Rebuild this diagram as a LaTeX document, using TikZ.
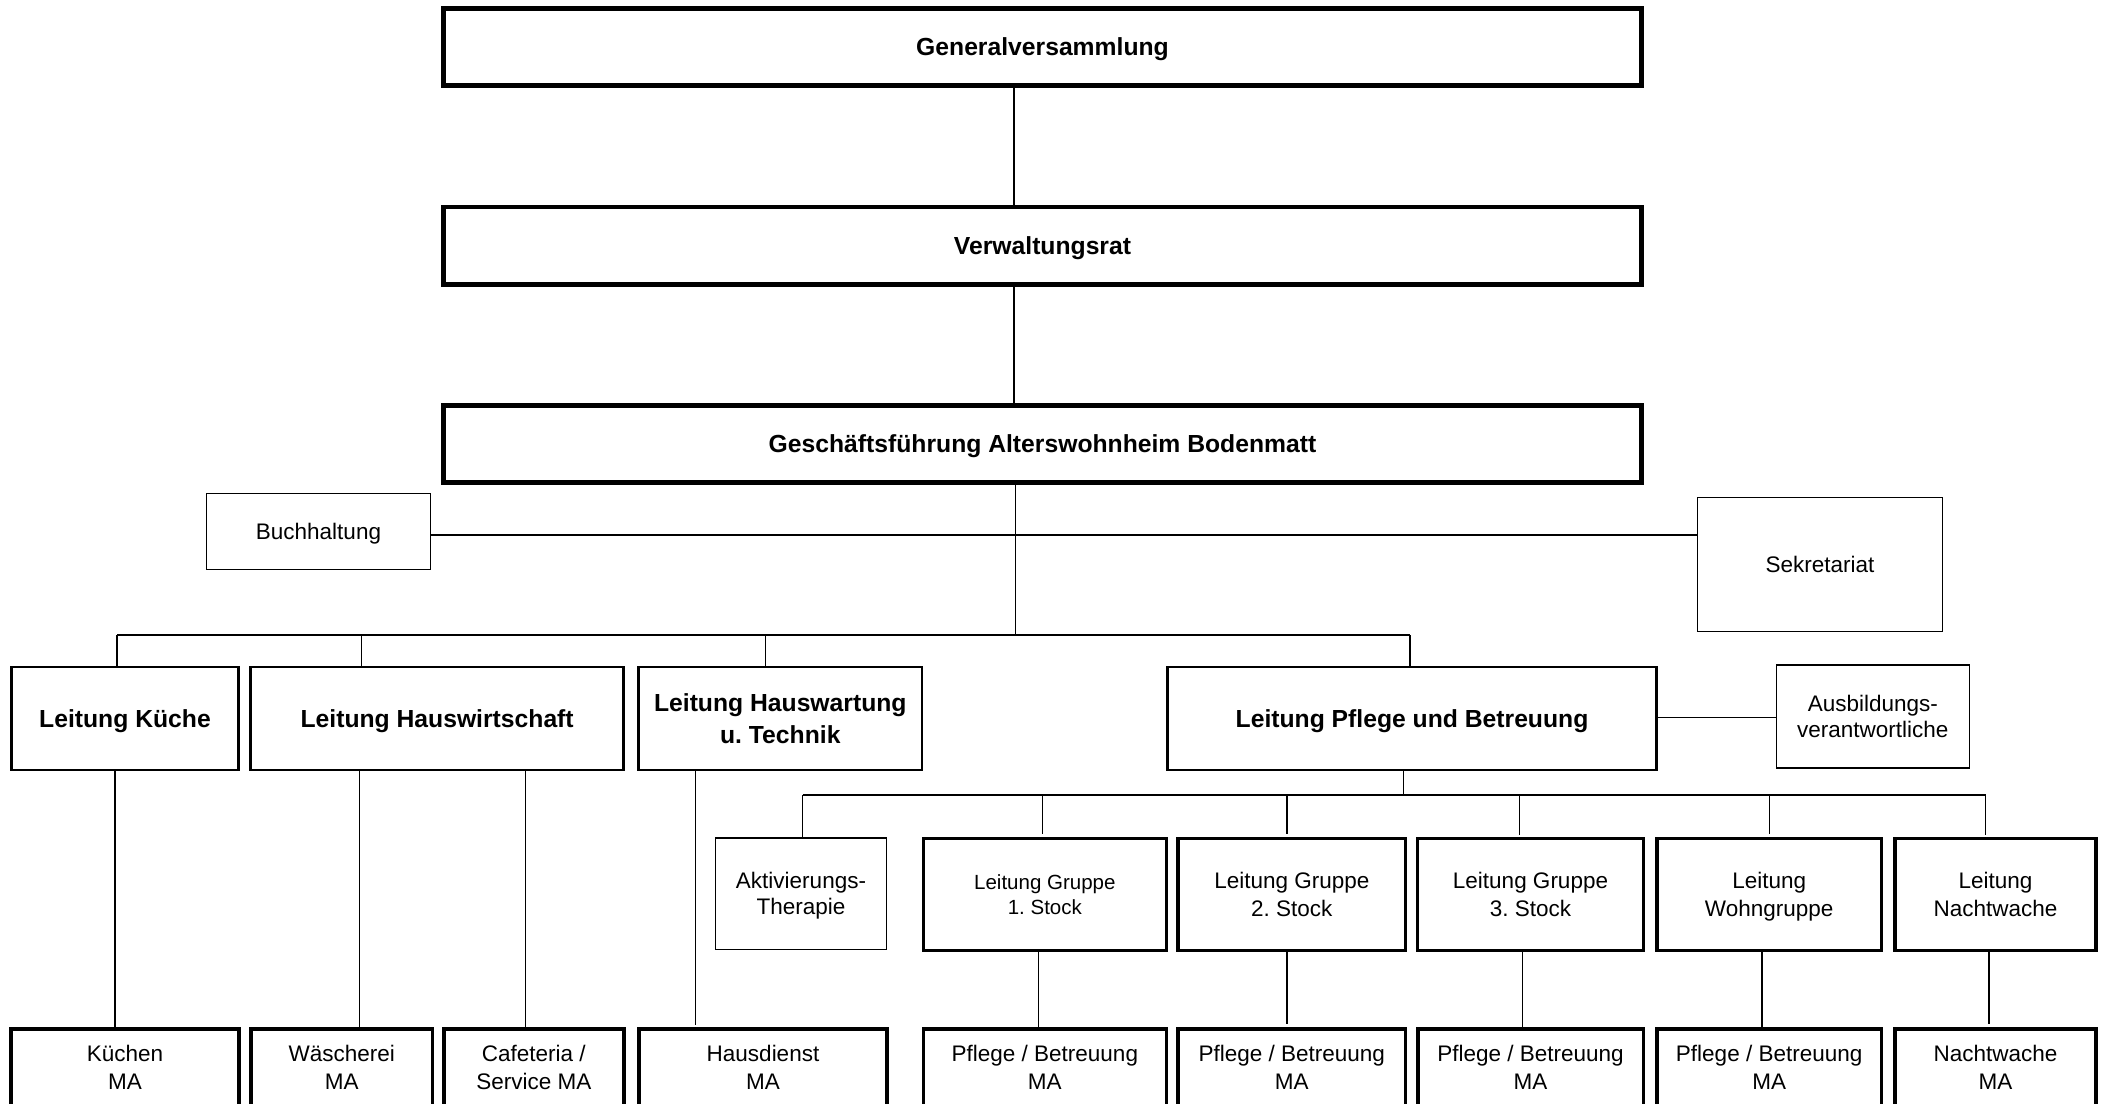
\documentclass[tikz,border=0pt]{standalone}
\usepackage{fontspec}
\setmainfont{Liberation Sans}
\frenchspacing
\newcommand\ta{\rule{0pt}{0.966em}}
\newcommand\tb{\rule[-0.25em]{0pt}{0pt}}
\begin{document}
\begin{tikzpicture}[x=1pt,y=-1pt,
 box/.style={draw, rectangle, inner sep=0pt, outer sep=0pt, align=center, execute at begin node=\frenchspacing},
 bfA/.style={font=\fontsize{24.7}{29}\selectfont\bfseries},
 rg/.style={font=\fontsize{22.5}{27.3}\selectfont},
 topbox/.style={box, bfA, line width=4.7pt, minimum width=1198.3pt, minimum height=77.3pt},
 lvtwo/.style={box, bfA, line width=2.8pt, minimum height=103pt},
 thinbox/.style={box, rg, line width=1.3pt},
 grp/.style={box, rg, line width=3.3pt, minimum height=112pt},
 btm/.style={box, rg, line width=3.5pt, minimum height=77pt},
 conn/.style={line width=1.5pt}
]
\useasboundingbox (0,0) rectangle (2106,1103);
\clip (0,0) rectangle (2106,1103);

% top levels
\node[topbox] (GV) at (1042.5,47) {\ta Generalversammlung\tb};
\node[topbox] (VR) at (1042.5,245.5) {\ta Verwaltungsrat\tb};
\node[topbox] (GF) at (1042.5,444) {\ta Geschäftsführung Alterswohnheim Bodenmatt\tb};

% staff
\node[thinbox, minimum width=223.7pt, minimum height=75.7pt] (BH) at (318.5,531.5) {\ta Buchhaltung\tb};
\node[thinbox, minimum width=244.7pt, minimum height=133.7pt] (SK) at (1820,564.5) {\ta Sekretariat\tb};

% second level
\node[lvtwo, minimum width=227.2pt] (KU) at (125,718.4) {\ta Leitung Küche\tb};
\node[lvtwo, minimum width=372.9pt] (HW) at (437.15,718.4) {\ta Leitung Hauswirtschaft\tb};
\node[lvtwo, minimum width=283.2pt, font=\fontsize{24.7}{31.7}\selectfont\bfseries] (HT) at (780.3,718.4) {\ta Leitung Hauswartung\\u. Technik\tb};
\node[lvtwo, minimum width=488.6pt] (PB) at (1412,718.4) {\ta Leitung Pflege und Betreuung\tb};
\node[thinbox, minimum width=193pt, minimum height=103pt, font=\fontsize{22.5}{25.7}\selectfont] (AV) at (1872.85,716.5) {\ta Ausbildungs-\\verantwortliche\tb};

% third level
\node[thinbox, minimum width=171.3pt, minimum height=111.4pt, font=\fontsize{22.5}{25.7}\selectfont] (AT) at (801,893.65) {\ta Aktivierungs-\\Therapie\tb};
\node[grp, minimum width=243pt, font=\fontsize{20.5}{24.7}\selectfont] (G1) at (1044.85,894.35) {\ta Leitung Gruppe\\1. Stock\tb};
\node[grp, minimum width=227.7pt, font=\fontsize{22.5}{28.7}\selectfont] (G2) at (1291.8,894.35) {\ta Leitung Gruppe\\2. Stock\tb};
\node[grp, minimum width=225.7pt, font=\fontsize{22.5}{28.7}\selectfont] (G3) at (1530.5,894.35) {\ta Leitung Gruppe\\3. Stock\tb};
\node[grp, minimum width=224.4pt, font=\fontsize{22.5}{28.7}\selectfont] (WG) at (1769.15,894.35) {\ta Leitung\\Wohngruppe\tb};
\node[grp, minimum width=201.1pt, font=\fontsize{22.5}{28.7}\selectfont] (NW) at (1995.5,894.35) {\ta Leitung\\Nachtwache\tb};

% bottom level
\node[btm, minimum width=227.9pt] (KM) at (125,1067.5) {\ta Küchen\\MA\tb};
\node[btm, minimum width=181.2pt] (WM) at (341.65,1067.5) {\ta Wäscherei\\MA\tb};
\node[btm, minimum width=180.2pt] (CM) at (533.85,1067.5) {\ta Cafeteria /\\Service MA\tb};
\node[btm, minimum width=247.9pt] (HM) at (763,1067.5) {\ta Hausdienst\\MA\tb};
\node[btm, minimum width=242.8pt] (P1) at (1044.85,1067.5) {\ta Pflege / Betreuung\\MA\tb};
\node[btm, minimum width=227.5pt] (P2) at (1291.8,1067.5) {\ta Pflege / Betreuung\\MA\tb};
\node[btm, minimum width=225.5pt] (P3) at (1530.5,1067.5) {\ta Pflege / Betreuung\\MA\tb};
\node[btm, minimum width=224.2pt] (P4) at (1769.15,1067.5) {\ta Pflege / Betreuung\\MA\tb};
\node[btm, minimum width=200.9pt] (NM) at (1995.5,1067.5) {\ta Nachtwache\\MA\tb};

% connector coordinates
\coordinate (s1) at (1014,0);
\coordinate (s2) at (1015.5,0);
\coordinate (ba) at (0,535);
\coordinate (b1L) at (117,635);
\coordinate (b1R) at (1410,635);
\coordinate (d2) at (361.3,635);
\coordinate (d3) at (765.3,635);
\coordinate (ay) at (0,717.3);
\coordinate (s3) at (1403.3,795);
\coordinate (b2L) at (802.7,795);
\coordinate (b2R) at (1985.7,795);
\coordinate (e1) at (1042.7,795);
\coordinate (e2) at (1287,795);
\coordinate (e3) at (1519.3,795);
\coordinate (e4) at (1769.3,795);
\coordinate (v1) at (115,0);
\coordinate (v2) at (359.3,0);
\coordinate (v3) at (525.4,0);
\coordinate (v4) at (695.7,0);
\coordinate (w1) at (1038.7,0);
\coordinate (w2) at (1287,0);
\coordinate (w3) at (1522.7,0);
\coordinate (w4) at (1762,0);
\coordinate (w5) at (1989,0);

% spine
\draw[conn] (GV.south -| s1) -- (VR.north -| s1);
\draw[conn] (VR.south -| s1) -- (GF.north -| s1);
\draw[conn] (GF.south -| s2) -- (s2 |- b1L);
\draw[conn] (BH.east |- ba) -- (SK.west |- ba);

% bus 1
\draw[conn] (b1L) -- (b1R);
\draw[conn] (b1L) -- (KU.north -| b1L);
\draw[conn] (d2) -- (HW.north -| d2);
\draw[conn] (d3) -- (HT.north -| d3);
\draw[conn] (b1R) -- (PB.north -| b1R);

% second level down
\draw[conn] (KU.south -| v1) -- (KM.north -| v1);
\draw[conn] (HW.south -| v2) -- (WM.north -| v2);
\draw[conn] (HW.south -| v3) -- (CM.north -| v3);
\draw[conn, shorten >=4pt] (HT.south -| v4) -- (HM.north -| v4);
\draw[conn] (PB.east |- ay) -- (AV.west |- ay);

% bus 2
\draw[conn] (PB.south -| s3) -- (s3);
\draw[conn] (b2L) -- (b2R);
\draw[conn] (b2L) -- (AT.north -| b2L);
\draw[conn, shorten >=4pt] (e1) -- (G1.north -| e1);
\draw[conn, shorten >=4pt] (e2) -- (G2.north -| e2);
\draw[conn, shorten >=3pt] (e3) -- (G3.north -| e3);
\draw[conn, shorten >=4pt] (e4) -- (WG.north -| e4);
\draw[conn, shorten >=3pt] (b2R) -- (NW.north -| b2R);

% third level down
\draw[conn] (G1.south -| w1) -- (P1.north -| w1);
\draw[conn, shorten >=5pt] (G2.south -| w2) -- (P2.north -| w2);
\draw[conn] (G3.south -| w3) -- (P3.north -| w3);
\draw[conn] (WG.south -| w4) -- (P4.north -| w4);
\draw[conn, shorten >=5pt] (NW.south -| w5) -- (NM.north -| w5);
\end{tikzpicture}
\end{document}
